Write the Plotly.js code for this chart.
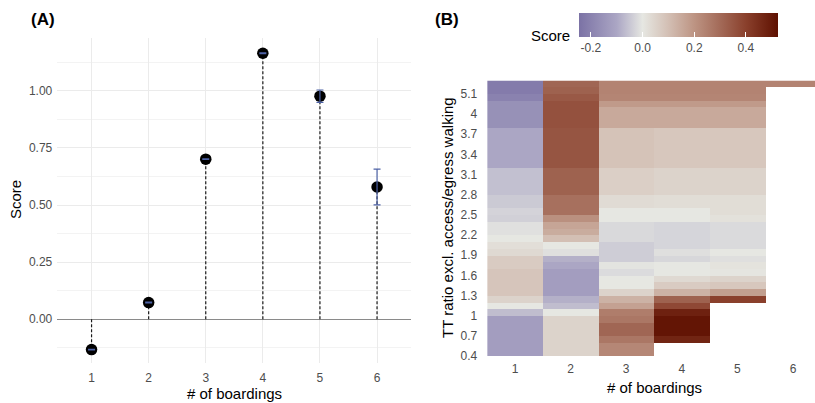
<!DOCTYPE html>
<html><head><meta charset="utf-8">
<script src="https://cdn.plot.ly/plotly-3.0.1.min.js"></script>
<style>html,body{margin:0;padding:0;overflow:hidden;background:#fff}</style>
</head><body><div id="chart" style="width:815px;height:403px"></div>
<script>
// ---------- Panel A data ----------
const boardings = [1, 2, 3, 4, 5, 6];
const scoreA = [-0.133, 0.073, 0.701, 1.165, 0.977, 0.579];
const errA = [0.0015, 0.0015, 0.0015, 0.0015, 0.027, 0.078];
const yTicksA = [0, 0.25, 0.5, 0.75, 1];
const yTickTextA = ['0.00', '0.25', '0.50', '0.75', '1.00'];

// ---------- Panel B data ----------
const heatCols = [1, 2, 3, 4, 5, 6];
const rowEdges = [0,1,2,3,4,5,6,7,8,9,10,11,12,13,14,15,16,17,18,19,20,21,22,23,24,25,26,27,28,29,30,31,32,33,34,35,36,37,38,39,40,41];
const yTickPosB = [0, 3, 6, 9, 12, 15, 18, 21, 24, 27, 30, 33, 36, 39];
const yTickLabelsB = ['0.4','0.7','1','1.3','1.6','1.9','2.2','2.5','2.8','3.1','3.4','3.7','4','5.1'];
// rows bottom -> top, columns = # of boardings 1..6
const heatZ = [
  [-0.125, 0.05, 0.23, null, null, null],
  [-0.125, 0.05, 0.23, null, null, null],
  [-0.125, 0.05, 0.27, 0.47, null, null],
  [-0.125, 0.05, 0.31, 0.51, null, null],
  [-0.125, 0.05, 0.31, 0.51, null, null],
  [-0.125, 0.05, 0.27, 0.51, null, null],
  [-0.065, 0.0, 0.255, 0.48, null, null],
  [0.0, -0.065, 0.17, 0.38, null, null],
  [0.05, -0.085, 0.13, 0.32, 0.40, null],
  [0.085, -0.125, 0.05, 0.13, 0.175, null],
  [0.085, -0.125, 0.0, 0.07, 0.08, null],
  [0.085, -0.125, 0.0, 0.035, 0.05, null],
  [0.085, -0.125, -0.018, 0.0, 0.005, null],
  [0.07, -0.10, -0.005, 0.0, 0.01, null],
  [0.07, -0.085, -0.04, -0.025, -0.012, null],
  [0.035, -0.012, -0.04, -0.012, 0.0, null],
  [0.022, 0.0, -0.04, -0.028, -0.02, null],
  [0.0, 0.10, -0.022, -0.028, -0.02, null],
  [-0.01, 0.145, -0.022, -0.028, -0.02, null],
  [-0.01, 0.16, -0.022, -0.028, -0.02, null],
  [-0.035, 0.21, 0.0, 0.0, 0.015, null],
  [-0.03, 0.285, 0.0, 0.0, 0.025, null],
  [-0.045, 0.285, 0.03, 0.025, 0.025, null],
  [-0.045, 0.285, 0.03, 0.025, 0.025, null],
  [-0.06, 0.32, 0.06, 0.05, 0.05, null],
  [-0.06, 0.32, 0.06, 0.05, 0.05, null],
  [-0.06, 0.32, 0.06, 0.05, 0.05, null],
  [-0.06, 0.32, 0.06, 0.05, 0.05, null],
  [-0.10, 0.35, 0.09, 0.08, 0.08, null],
  [-0.10, 0.35, 0.09, 0.08, 0.08, null],
  [-0.10, 0.35, 0.09, 0.08, 0.08, null],
  [-0.10, 0.35, 0.09, 0.08, 0.08, null],
  [-0.10, 0.35, 0.09, 0.08, 0.08, null],
  [-0.10, 0.35, 0.09, 0.08, 0.08, null],
  [-0.16, 0.36, 0.15, 0.15, 0.15, null],
  [-0.16, 0.36, 0.15, 0.15, 0.15, null],
  [-0.16, 0.36, 0.15, 0.15, 0.15, null],
  [-0.16, 0.36, 0.185, 0.185, 0.185, null],
  [-0.20, 0.34, 0.235, 0.235, 0.235, null],
  [-0.22, 0.32, 0.24, 0.24, 0.24, null],
  [-0.22, 0.31, 0.24, 0.24, 0.24, 0.24]
];
const cbTicks = [-0.2, 0, 0.2, 0.4];
const cbTickText = ['-0.2', '0.0', '0.2', '0.4'];

// ---------- build traces ----------
const FONT = 'Liberation Sans, Arial, sans-serif';
const stemX = [], stemY = [];
boardings.forEach((b, i) => { stemX.push(b, b, null); stemY.push(0, scoreA[i], null); });

const W = 815, H = 403;
const px = v => v / W, py = v => 1 - v / H;

const traces = [
  {type: 'scatter', mode: 'lines', x: stemX, y: stemY, xaxis: 'x', yaxis: 'y',
   line: {color: '#1a1a1a', width: 1.2, dash: '3px,2px'}, hoverinfo: 'skip', showlegend: false},
  {type: 'scatter', mode: 'markers', x: boardings, y: scoreA, xaxis: 'x', yaxis: 'y',
   marker: {size: 11.5, color: '#000'}, showlegend: false},
  {type: 'scatter', mode: 'markers', x: boardings, y: scoreA, xaxis: 'x', yaxis: 'y',
   marker: {size: 1, opacity: 0}, showlegend: false, hoverinfo: 'skip',
   error_y: {type: 'data', array: errA, color: '#4d62a6', thickness: 1.2, width: 3.5}},
  {type: 'heatmap', x: heatCols, y: rowEdges, z: heatZ, xaxis: 'x2', yaxis: 'y2',
   zmin: -0.246, zmax: 0.524, zsmooth: false, hoverongaps: false,
   colorscale: [[0, '#7b72a5'], [0.19, '#aba6c4'], [0.3195, '#e6e7e2'], [0.449, '#d3bfb4'],
                [0.579, '#bd9483'], [0.709, '#a36a58'], [0.839, '#8a402c'], [1, '#5e1000']],
   colorbar: {orientation: 'h', xref: 'container', yref: 'container',
     x: px(579), xanchor: 'left', y: py(13), yanchor: 'top',
     lenmode: 'pixels', len: 199, thicknessmode: 'pixels', thickness: 24,
     xpad: 0, ypad: 0, outlinewidth: 0, ticks: 'inside', ticklen: 5, tickcolor: '#ffffff', tickwidth: 1,
     tickvals: cbTicks, ticktext: cbTickText, tickfont: {family: FONT, size: 12, color: '#4d4d4d'},
     title: {text: ''}}}
];

const axisFont = {family: FONT, size: 12, color: '#4d4d4d'};
const layout = {
  width: W, height: H, margin: {l: 0, r: 0, t: 0, b: 0, autoexpand: false},
  paper_bgcolor: '#fff', plot_bgcolor: 'rgba(0,0,0,0)', showlegend: false,
  font: {family: FONT},
  xaxis: {domain: [px(57.3), px(411.3)], range: [0.4, 6.6], tickvals: boardings,
    showgrid: true, gridcolor: '#ebebeb', gridwidth: 1, zeroline: false, showline: false,
    ticks: '', tickfont: axisFont, ticklabelstandoff: 6, fixedrange: true},
  yaxis: {domain: [py(363.3), py(37.7)], range: [-0.193, 1.233], tickvals: yTicksA, ticktext: yTickTextA,
    showgrid: true, gridcolor: '#ebebeb', gridwidth: 1,
    minor: {tickvals: [-0.125, 0.125, 0.375, 0.625, 0.875, 1.125], showgrid: true, gridcolor: '#f3f3f3', gridwidth: 1},
    zeroline: true, zerolinecolor: '#8a8a8a', zerolinewidth: 1.3, showline: false,
    ticks: '', tickfont: axisFont, ticklabelstandoff: 4, fixedrange: true},
  xaxis2: {domain: [px(487.2), 1], range: [0.5, 6.396], tickvals: heatCols, anchor: 'y2',
    showgrid: false, zeroline: false, showline: false, ticks: '', tickfont: axisFont, ticklabelstandoff: 4, fixedrange: true},
  yaxis2: {domain: [py(356), py(80.5)], range: [0, 41], tickvals: yTickPosB, ticktext: yTickLabelsB, anchor: 'x2',
    showgrid: false, zeroline: false, showline: false, ticks: '', tickfont: axisFont, ticklabelstandoff: 9, fixedrange: true},
  annotations: [
    {text: '<b>(A)</b>', xref: 'paper', yref: 'paper', x: px(29), y: py(19), xanchor: 'left', yanchor: 'middle',
     showarrow: false, font: {family: FONT, size: 17, color: '#000'}},
    {text: '<b>(B)</b>', xref: 'paper', yref: 'paper', x: px(433), y: py(19), xanchor: 'left', yanchor: 'middle',
     showarrow: false, font: {family: FONT, size: 17, color: '#000'}},
    {text: '# of boardings', xref: 'paper', yref: 'paper', x: px(234), y: py(393), xanchor: 'center', yanchor: 'middle',
     showarrow: false, font: {family: FONT, size: 15, color: '#000'}},
    {text: 'Score', xref: 'paper', yref: 'paper', x: px(15), y: py(200), xanchor: 'center', yanchor: 'middle',
     textangle: -90, showarrow: false, font: {family: FONT, size: 15, color: '#000'}},
    {text: '# of boardings', xref: 'paper', yref: 'paper', x: px(654), y: py(387.5), xanchor: 'center', yanchor: 'middle',
     showarrow: false, font: {family: FONT, size: 15, color: '#000'}},
    {text: 'TT ratio excl. access/egress walking', xref: 'paper', yref: 'paper', x: px(447), y: py(218), xanchor: 'center', yanchor: 'middle',
     textangle: -90, showarrow: false, font: {family: FONT, size: 15, color: '#000'}},
    {text: 'Score', xref: 'paper', yref: 'paper', x: px(572), y: py(36), xanchor: 'right', yanchor: 'middle',
     showarrow: false, font: {family: FONT, size: 15, color: '#000'}}
  ]
};

Plotly.newPlot('chart', traces, layout, {displayModeBar: false, staticPlot: true});
</script>
</body></html>
